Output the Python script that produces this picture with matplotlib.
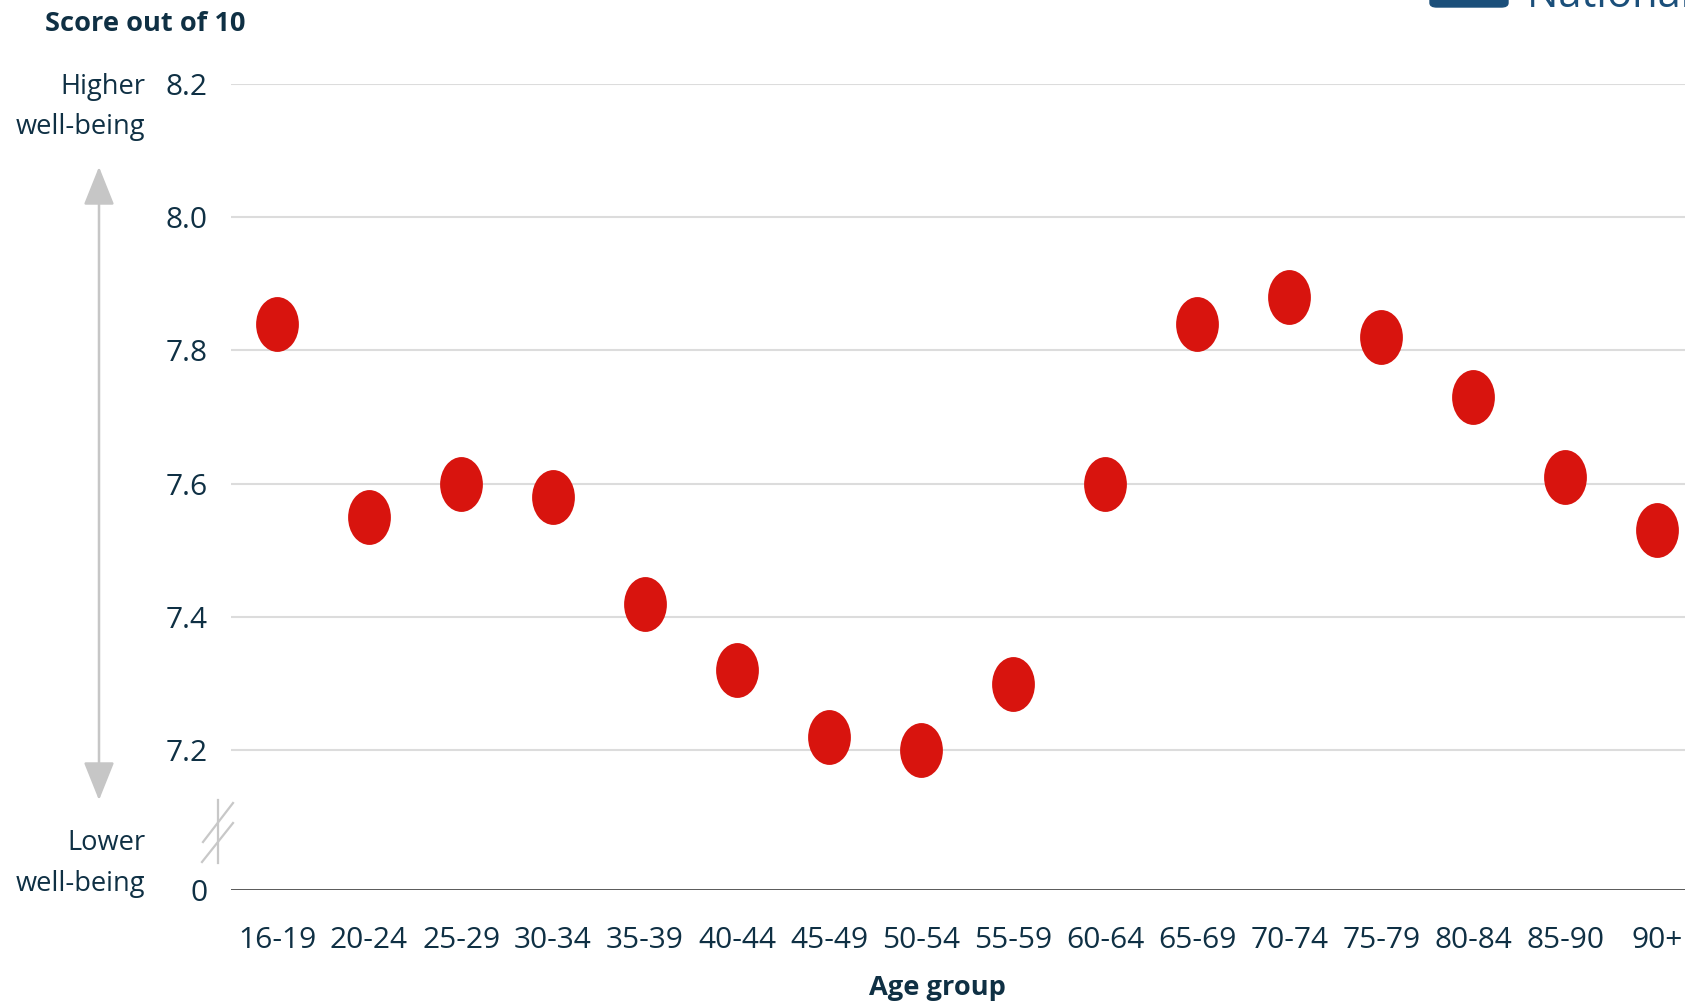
import matplotlib
matplotlib.use("Agg")
import matplotlib.pyplot as plt
from matplotlib.path import Path
from matplotlib.transforms import Affine2D
from matplotlib.lines import Line2D
import matplotlib.patches as mpatches

# ===== DATA =====
age_groups = ["16-19", "20-24", "25-29", "30-34", "35-39", "40-44", "45-49", "50-54",
              "55-59", "60-64", "65-69", "70-74", "75-79", "80-84", "85-90", "90+"]
scores = [7.84, 7.55, 7.60, 7.58, 7.42, 7.32, 7.22, 7.20,
          7.30, 7.60, 7.84, 7.88, 7.82, 7.73, 7.61, 7.53]
y_ticks = [7.2, 7.4, 7.6, 7.8, 8.0, 8.2]
y_tick_labels = ["7.2", "7.4", "7.6", "7.8", "8.0", "8.2"]

# ===== STYLE =====
TEXT = "#0f3044"
RED = "#d8140e"
GRID = "#dcdcdc"
FONT = "Open Sans"
plt.rcParams["font.family"] = [FONT, "DejaVu Sans"]

W, H = 1685, 1008
fig = plt.figure(figsize=(W / 100, H / 100), dpi=100)
ax = fig.add_axes([231 / W, 118 / H, 1 - 231 / W, 806 / H])

# tall ellipse marker
ellipse = Affine2D().scale(0.78, 1.0).transform_path(Path.unit_circle())

x = list(range(len(age_groups)))
ax.plot(x, scores, linestyle="none", marker=ellipse, markersize=39.5,
        color=RED, markeredgewidth=0, zorder=3)

y_bottom = 6.99
ax.set_ylim(y_bottom, 8.2)
ax.set_xlim(-0.5, 15.3)

for t in y_ticks:
    ax.axhline(t, color=GRID, lw=1.5, zorder=1)
ax.axhline(y_bottom, color="#4a4a4a", lw=2, zorder=2)

ax.set_yticks(y_ticks + [y_bottom])
ax.set_yticklabels(y_tick_labels + ["0"], fontsize=21.5, color=TEXT)
ax.set_xticks(x)
ax.set_xticklabels(age_groups, fontsize=21.5, color=TEXT)
ax.tick_params(axis="y", length=0, pad=17)
ax.tick_params(axis="x", length=0, pad=26)
for s in ax.spines.values():
    s.set_visible(False)

ax.set_xlabel("Age group", fontsize=19.6, fontweight="bold", color=TEXT)
ax.xaxis.set_label_coords(0.486, -0.105)

# ===== TEXT AROUND THE AXES =====
fig.text(45 / W, 1 - 24 / H, "Score out of 10", fontsize=19.6, fontweight="bold",
         color=TEXT, ha="left", va="center")
for label, y in [("Higher", 87), ("well-being", 127), ("Lower", 843), ("well-being", 884)]:
    fig.text(145 / W, 1 - y / H, label, fontsize=19.6, color=TEXT, ha="right", va="center")

# double-headed arrow between the two labels
fig.patches.append(mpatches.FancyArrowPatch(
    (99 / W, 1 - 803 / H), (99 / W, 1 - 164 / H), transform=fig.transFigure,
    arrowstyle="<|-|>,head_length=1.5,head_width=0.6", mutation_scale=16,
    color="#c6c6c6", lw=1.8))

# axis break mark
fig.lines.append(Line2D([218 / W, 218 / W], [1 - 800 / H, 1 - 863 / H],
                        transform=fig.transFigure, color="#c8c8c8", lw=1.6))
fig.lines.append(Line2D([203 / W, 233 / W], [1 - 842 / H, 1 - 803 / H],
                        transform=fig.transFigure, color="#c8c8c8", lw=1.6))
fig.lines.append(Line2D([202 / W, 233 / W], [1 - 862 / H, 1 - 823 / H],
                        transform=fig.transFigure, color="#c8c8c8", lw=1.6))

# logo, cut by the top edge
fig.patches.append(mpatches.FancyBboxPatch(
    (1430 / W, 1 - 7 / H), 78 / W, 20 / H, boxstyle="round,pad=0,rounding_size=0.004",
    transform=fig.transFigure, color="#1b4f7a"))
fig.text(1527 / W, 1 - 7 / H, "National Statistics", fontsize=30, color="#1b4f7a",
         ha="left", va="baseline")

fig.savefig("out.png", dpi=100)
